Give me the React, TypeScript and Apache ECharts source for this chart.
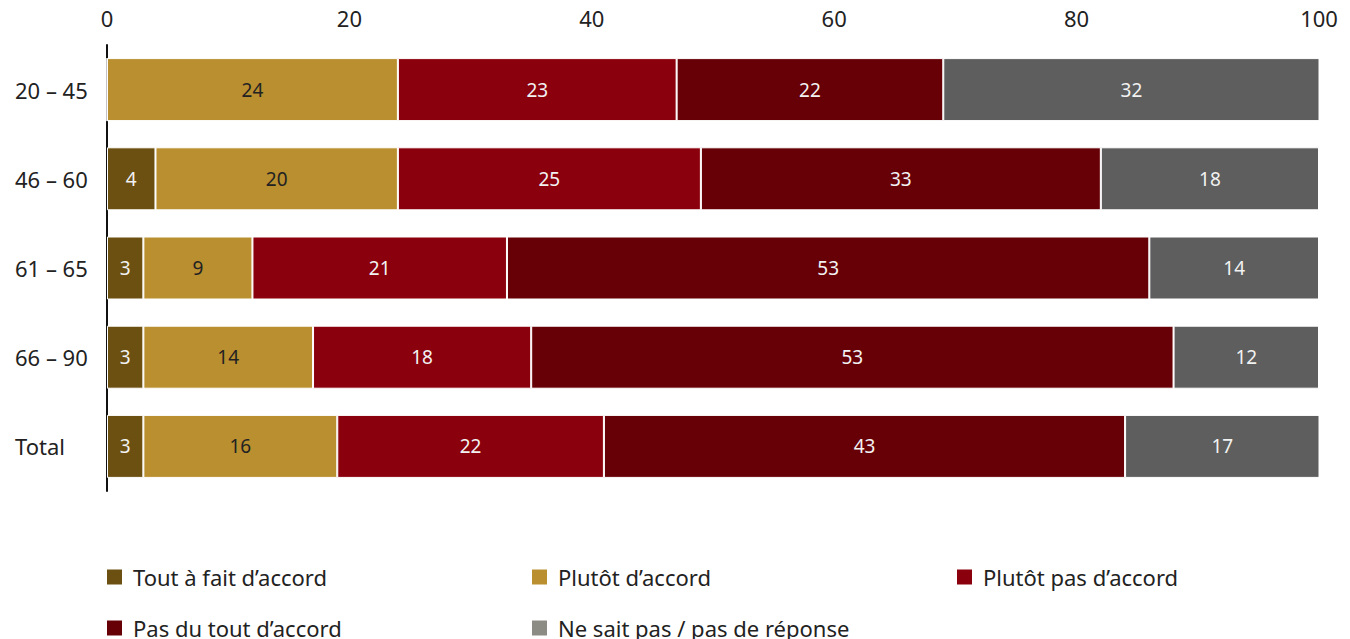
import React, { useEffect, useRef } from "react";
import * as echarts from "echarts";

const categories = ["20 – 45", "46 – 60", "61 – 65", "66 – 90", "Total"];
const seriesNames = [
  "Tout à fait d’accord",
  "Plutôt d’accord",
  "Plutôt pas d’accord",
  "Pas du tout d’accord",
  "Ne sait pas / pas de réponse",
];
const toutAFait = [0, 4, 3, 3, 3];
const plutotAccord = [24, 20, 9, 14, 16];
const plutotPas = [23, 25, 21, 18, 22];
const pasDuTout = [22, 33, 53, 53, 43];
const neSaitPas = [32, 18, 14, 12, 17];
const xTicks = [0, 20, 40, 60, 80, 100];

const barColors = ["#6b5011", "#b98f2f", "#8a000d", "#660006", "#5d5e5d"];
const legendColors = ["#6b5011", "#b98f2f", "#8a000d", "#660006", "#8c8c84"];
const labelColors = ["#f2f2f2", "#222222", "#f2f2f2", "#f2f2f2", "#f2f2f2"];

const FONT = "Noto Sans";

export default function App() {
  const ref = useRef<HTMLDivElement>(null);
  useEffect(() => {
    document.body.style.margin = "0";
    if (!ref.current) return;
    const chart = echarts.init(ref.current, null, { renderer: "svg" });
    const values = [toutAFait, plutotAccord, plutotPas, pasDuTout, neSaitPas];
    const legendPos = [
      [105, 566],
      [530, 566],
      [955, 566],
      [105, 617],
      [530, 617],
    ];
    const legends = seriesNames.map((name, i) => ({
      left: legendPos[i][0],
      top: legendPos[i][1],
      orient: "horizontal",
      itemWidth: 17,
      itemHeight: 17,
      itemGap: 10,
      icon: "rect",
      selectedMode: false,
      padding: 0,
      textStyle: {
        fontFamily: FONT,
        fontSize: 22,
        lineHeight: 17,
        color: "#222",
        padding: [0, 0, 3, 5],
      },
      data: [{ name, itemStyle: { color: legendColors[i] } }],
    }));
    chart.setOption({
      animation: false,
      textStyle: { fontFamily: FONT },
      grid: { left: 107, right: 31, top: 45, bottom: 148, containLabel: false },
      xAxis: {
        type: "value",
        position: "top",
        min: xTicks[0],
        max: xTicks[xTicks.length - 1],
        interval: 20,
        axisLine: { show: false },
        axisTick: { show: false },
        splitLine: { show: false },
        axisLabel: { fontSize: 22, color: "#222", margin: 16, fontFamily: FONT },
      },
      yAxis: {
        type: "category",
        data: categories,
        inverse: true,
        axisLine: { show: true, lineStyle: { color: "#111", width: 2 } },
        axisTick: { show: false },
        axisLabel: {
          fontSize: 22,
          color: "#222",
          align: "left",
          margin: 92,
          fontFamily: FONT,
        },
      },
      legend: legends,
      series: seriesNames.map((name, i) => ({
        name,
        type: "bar",
        stack: "total",
        barWidth: 63,
        clip: true,
        data: values[i],
        itemStyle: { color: barColors[i], borderColor: "#ffffff", borderWidth: 1 },
        label: {
          show: true,
          position: "inside",
          fontSize: 19,
          fontFamily: FONT,
          color: labelColors[i],
          formatter: (p: any) => (p.value ? String(p.value) : ""),
        },
      })),
    });
    return () => chart.dispose();
  }, []);
  return <div ref={ref} style={{ width: 1350, height: 639 }} />;
}
